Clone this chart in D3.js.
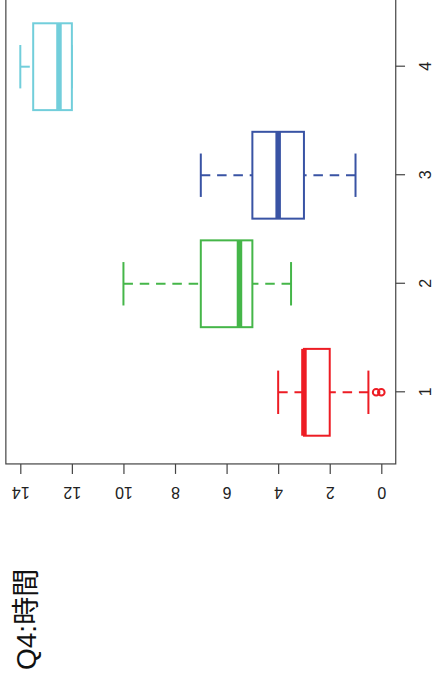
<!DOCTYPE html>
<html>
<head>
<meta charset="utf-8">
<script src="https://cdn.jsdelivr.net/npm/d3@7/dist/d3.min.js"></script>
<style>
  html, body { margin: 0; padding: 0; background: #fff; }
  svg { display: block; }
  text { font-family: "Liberation Sans", Arial, "Noto Sans CJK JP", sans-serif; }
</style>
</head>
<body>
<svg id="chart" width="433" height="686"></svg>
<script>
// ---- data ----
const title = "Q4:時間";
const categories = [1, 2, 3, 4];
const lowerWhisker = [0.5, 3.5, 1, 12];
const q1 = [2, 5, 3, 12];
const median = [3, 5.5, 4, 12.5];
const q3 = [3, 7, 5, 13.5];
const upperWhisker = [4, 10, 7, 14];
const outliers = [[0, 0.2], [], [], []];
const colors = ["#ED1C24", "#45B649", "#3953A4", "#72CEDB"];
const valueTicks = [0, 2, 4, 6, 8, 10, 12, 14];

// ---- layout: chart drawn in its natural orientation, then turned 90° ----
const W = 686, H = 433;
const svg = d3.select("#chart");
const g = svg.append("g").attr("transform", `translate(0,${W}) rotate(-90)`);

const y = d3.scaleLinear().domain([0, 14]).range([381.3, 20.3]);
const x = d3.scaleLinear().domain([1, 4]).range([293.7, 619.3]);
const step = x(2) - x(1);
const boxW = step * 0.8;
const stapleW = boxW * 0.5;

const plotL = x(0.34), plotR = x(4.66);
const plotT = y(14.56), plotB = y(-0.56);
const frameColor = "#444";

// frame
g.append("rect")
  .attr("x", plotL).attr("y", plotT)
  .attr("width", plotR - plotL).attr("height", plotB - plotT)
  .attr("fill", "none").attr("stroke", frameColor).attr("stroke-width", 1.2);

// value axis
const yAxis = g.append("g").attr("transform", `translate(${plotL},0)`)
  .call(d3.axisLeft(y).tickValues(valueTicks).tickSize(10).tickFormat(d3.format("d")));
yAxis.select(".domain").remove();
yAxis.selectAll(".tick line").attr("stroke", frameColor).attr("stroke-width", 1.2);
yAxis.selectAll(".tick text")
  .attr("x", null).attr("dy", null)
  .attr("transform", "translate(-22.7,0) rotate(-90)")
  .attr("text-anchor", "middle")
  .attr("font-size", 16).attr("fill", "#222")
  .style("font-family", "'Liberation Sans', Arial, sans-serif");

// category axis
const xAxis = g.append("g").attr("transform", `translate(0,${plotB})`)
  .call(d3.axisBottom(x).tickValues(categories).tickSize(9.3).tickFormat(d3.format("d")));
xAxis.select(".domain").remove();
xAxis.selectAll(".tick line").attr("stroke", frameColor).attr("stroke-width", 1.2);
xAxis.selectAll(".tick text")
  .attr("y", 35.6).attr("dy", null)
  .attr("font-size", 16).attr("fill", "#222")
  .style("font-family", "'Liberation Sans', Arial, sans-serif");

// boxes
categories.forEach((c, i) => {
  const cx = x(c);
  const col = colors[i];
  const bg = g.append("g");
  // whiskers (drawn from whisker end toward the box, dashed)
  [[upperWhisker[i], q3[i]], [lowerWhisker[i], q1[i]]].forEach(([a, b]) => {
    if (a !== b) {
      bg.append("line")
        .attr("x1", cx).attr("x2", cx).attr("y1", y(a)).attr("y2", y(b))
        .attr("stroke", col).attr("stroke-width", 2)
        .attr("stroke-dasharray", "9.5,6.8");
    }
  });
  // staples
  [upperWhisker[i], lowerWhisker[i]].forEach(v => {
    bg.append("line")
      .attr("x1", cx - stapleW / 2).attr("x2", cx + stapleW / 2)
      .attr("y1", y(v)).attr("y2", y(v))
      .attr("stroke", col).attr("stroke-width", 2);
  });
  // box
  bg.append("rect")
    .attr("x", cx - boxW / 2).attr("width", boxW)
    .attr("y", y(q3[i])).attr("height", y(q1[i]) - y(q3[i]))
    .attr("fill", "#fff").attr("stroke", col).attr("stroke-width", 2);
  // median
  bg.append("line")
    .attr("x1", cx - boxW / 2).attr("x2", cx + boxW / 2)
    .attr("y1", y(median[i])).attr("y2", y(median[i]))
    .attr("stroke", col).attr("stroke-width", 5.5);
  // outliers
  bg.selectAll("circle.out").data(outliers[i]).enter().append("circle")
    .attr("class", "out")
    .attr("cx", cx).attr("cy", d => y(d)).attr("r", 3.3)
    .attr("fill", "none").attr("stroke", col).attr("stroke-width", 2);
});

// title
g.append("text")
  .attr("x", 16).attr("y", 36)
  .attr("font-size", 28).attr("fill", "#111")
  .style("font-family", "'Liberation Sans', Arial, 'Noto Sans CJK JP', sans-serif")
  .text(title);
</script>
</body>
</html>
